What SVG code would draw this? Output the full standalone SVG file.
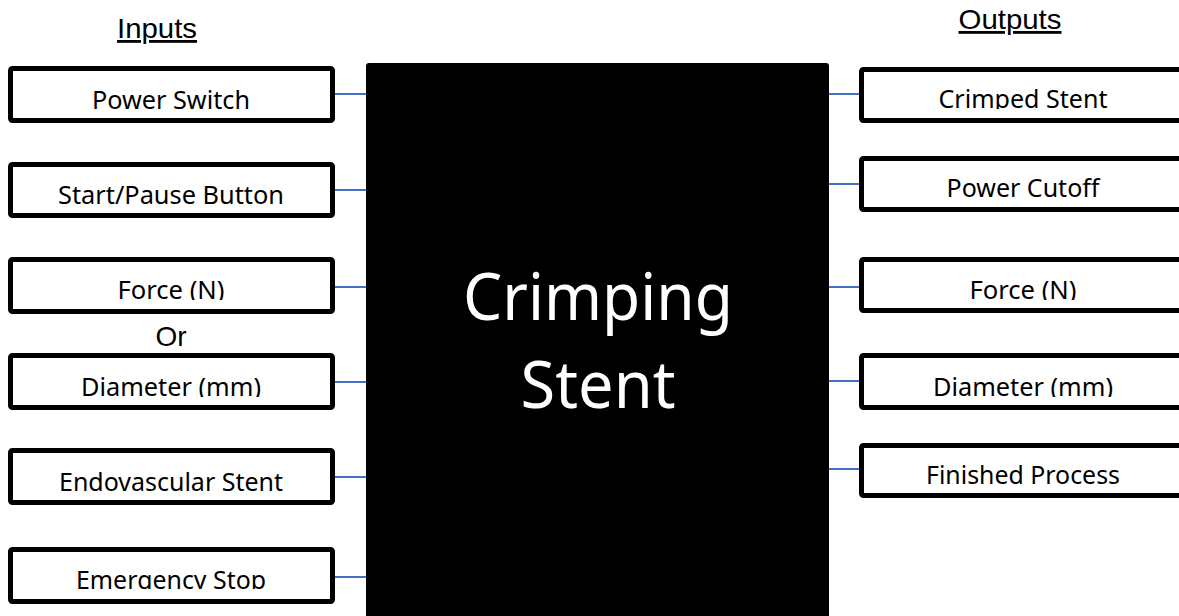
<svg xmlns="http://www.w3.org/2000/svg" width="1179" height="616" viewBox="0 0 1179 616">
<style>
.box{fill:#fff;stroke:#000;stroke-width:5}
.lbl{font-family:"Noto Sans","Open Sans",sans-serif;font-size:25px;fill:#000;text-anchor:middle}
.hdr{font-family:"Liberation Sans",Arial,sans-serif;font-size:28px;fill:#000;text-anchor:middle;text-decoration:underline}
.conn{stroke:#4472C4;stroke-width:2;fill:none}
.big{font-family:"Noto Sans","Open Sans",sans-serif;font-size:66px;fill:#fff;text-anchor:middle}
</style>
<defs>
<clipPath id="c1"><rect x="0" y="60" width="340" height="50"/></clipPath>
<clipPath id="c2"><rect x="0" y="160" width="340" height="45"/></clipPath>
<clipPath id="c3"><rect x="0" y="255" width="340" height="45"/></clipPath>
<clipPath id="c4"><rect x="0" y="350" width="340" height="47"/></clipPath>
<clipPath id="c5"><rect x="0" y="445" width="340" height="47"/></clipPath>
<clipPath id="c6"><rect x="0" y="545" width="340" height="44"/></clipPath>
<clipPath id="r1"><rect x="850" y="60" width="340" height="49"/></clipPath>
<clipPath id="r2"><rect x="850" y="150" width="340" height="48"/></clipPath>
<clipPath id="r3"><rect x="850" y="255" width="340" height="45"/></clipPath>
<clipPath id="r4"><rect x="850" y="350" width="340" height="47"/></clipPath>
<clipPath id="r5"><rect x="850" y="440" width="340" height="45"/></clipPath>
</defs>
<rect width="1179" height="616" fill="#fff"/>
<text class="hdr" x="157" y="38" textLength="80" lengthAdjust="spacingAndGlyphs">Inputs</text>
<text class="hdr" x="1010" y="29" textLength="103" lengthAdjust="spacingAndGlyphs">Outputs</text>
<g id="connectors">
<line class="conn" x1="335" y1="94" x2="367" y2="94"/>
<line class="conn" x1="335" y1="190" x2="367" y2="190"/>
<line class="conn" x1="335" y1="287" x2="367" y2="287"/>
<line class="conn" x1="335" y1="382" x2="367" y2="382"/>
<line class="conn" x1="335" y1="477" x2="367" y2="477"/>
<line class="conn" x1="335" y1="577" x2="367" y2="577"/>
<line class="conn" x1="828" y1="94" x2="859" y2="94"/>
<line class="conn" x1="828" y1="184" x2="859" y2="184"/>
<line class="conn" x1="828" y1="287" x2="859" y2="287"/>
<line class="conn" x1="828" y1="381" x2="859" y2="381"/>
<line class="conn" x1="828" y1="469" x2="859" y2="469"/>
</g>
<g id="crimping">
<rect x="366" y="63" width="463" height="560" rx="3" fill="#000"/>
<text class="big" x="598" y="320" textLength="270" lengthAdjust="spacingAndGlyphs">Crimping</text>
<text class="big" x="598" y="408" textLength="155" lengthAdjust="spacingAndGlyphs">Stent</text>
</g>
<g id="in-power">
<rect class="box" x="10.5" y="68.5" width="322" height="52" rx="2"/>
<text class="lbl" x="171" y="109" clip-path="url(#c1)" textLength="158" lengthAdjust="spacingAndGlyphs">Power Switch</text>
</g>
<g id="in-start">
<rect class="box" x="10.5" y="164.5" width="322" height="51" rx="2"/>
<text class="lbl" x="171" y="204" clip-path="url(#c2)" textLength="226" lengthAdjust="spacingAndGlyphs">Start/Pause Button</text>
</g>
<g id="in-force">
<rect class="box" x="10.5" y="259.5" width="322" height="52" rx="2"/>
<text class="lbl" x="171" y="299" clip-path="url(#c3)" textLength="107" lengthAdjust="spacingAndGlyphs">Force (N)</text>
</g>
<text x="171" y="346" font-family="Liberation Sans, Arial, sans-serif" font-size="28" text-anchor="middle">Or</text>
<g id="in-diameter">
<rect class="box" x="10.5" y="355.5" width="322" height="52" rx="2"/>
<text class="lbl" x="171" y="396" clip-path="url(#c4)" textLength="180" lengthAdjust="spacingAndGlyphs">Diameter (mm)</text>
</g>
<g id="in-stent">
<rect class="box" x="10.5" y="450.5" width="322" height="52" rx="2"/>
<text class="lbl" x="171" y="491" clip-path="url(#c5)" textLength="224" lengthAdjust="spacingAndGlyphs">Endovascular Stent</text>
</g>
<g id="in-estop">
<rect class="box" x="10.5" y="549.5" width="322" height="52" rx="2"/>
<text class="lbl" x="171" y="589" clip-path="url(#c6)" textLength="190" lengthAdjust="spacingAndGlyphs">Emergency Stop</text>
</g>
<g id="out-crimped">
<rect class="box" x="861.5" y="69.5" width="323" height="51" rx="2"/>
<text class="lbl" x="1023" y="108" clip-path="url(#r1)" textLength="169" lengthAdjust="spacingAndGlyphs">Crimped Stent</text>
</g>
<g id="out-cutoff">
<rect class="box" x="861.5" y="158.5" width="323" height="51" rx="2"/>
<text class="lbl" x="1023" y="197" clip-path="url(#r2)" textLength="153" lengthAdjust="spacingAndGlyphs">Power Cutoff</text>
</g>
<g id="out-force">
<rect class="box" x="861.5" y="259.5" width="323" height="51" rx="2"/>
<text class="lbl" x="1023" y="299" clip-path="url(#r3)" textLength="107" lengthAdjust="spacingAndGlyphs">Force (N)</text>
</g>
<g id="out-diameter">
<rect class="box" x="861.5" y="355.5" width="323" height="52" rx="2"/>
<text class="lbl" x="1023" y="396" clip-path="url(#r4)" textLength="180" lengthAdjust="spacingAndGlyphs">Diameter (mm)</text>
</g>
<g id="out-finished">
<rect class="box" x="861.5" y="445.5" width="323" height="50" rx="2"/>
<text class="lbl" x="1023" y="484" clip-path="url(#r5)" textLength="194" lengthAdjust="spacingAndGlyphs">Finished Process</text>
</g>
</svg>
